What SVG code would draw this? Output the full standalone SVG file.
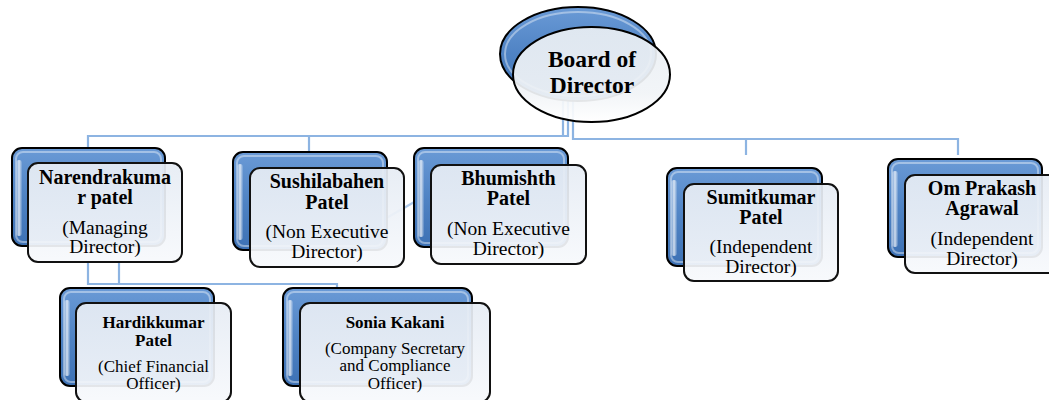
<svg xmlns="http://www.w3.org/2000/svg" width="1049" height="400" viewBox="0 0 1049 400">
<defs>
<linearGradient id="bg" x1="0" y1="0" x2="0" y2="1">
<stop offset="0" stop-color="#6a9ad6"/>
<stop offset="0.5" stop-color="#4f83c4"/>
<stop offset="1" stop-color="#3d71b4"/>
</linearGradient>
<linearGradient id="fg" x1="0" y1="0" x2="0" y2="1">
<stop offset="0" stop-color="#e6ecf4"/>
<stop offset="1" stop-color="#f7f9fc"/>
</linearGradient>
<linearGradient id="eg" x1="0" y1="0" x2="0" y2="1">
<stop offset="0" stop-color="#e9eef3"/>
<stop offset="0.7" stop-color="#f1f4f7"/>
<stop offset="1" stop-color="#ffffff"/>
</linearGradient>
<linearGradient id="hl" x1="0" y1="0" x2="1" y2="0">
<stop offset="0" stop-color="#ffffff" stop-opacity="0.1"/>
<stop offset="0.5" stop-color="#ffffff" stop-opacity="0.75"/>
<stop offset="1" stop-color="#ffffff" stop-opacity="0.1"/>
</linearGradient>
</defs>
<style>
.c{fill:none;stroke:#8db4e2;stroke-width:2.2}
.back{fill:url(#bg);stroke:#000;stroke-width:2}
.gl{fill:none;stroke:#ffffff;stroke-opacity:0.4;stroke-width:2}
.hi{fill:url(#hl)}
.front{fill:url(#fg);fill-opacity:0.93;stroke:#111;stroke-width:2}
.t{font-family:'Liberation Serif','Times New Roman','DejaVu Serif',serif;text-anchor:middle;fill:#000}
.b{font-weight:bold;font-size:20px}
.r{font-size:19.5px}
.bs{font-weight:bold;font-size:17px}
.rs{font-size:17px}
.bt{font-weight:bold;font-size:23.5px}
</style>

<g id="connectors">
<path class="c" d="M563,100 V136 H88 V148"/>
<path class="c" d="M568,100 V136 H563"/>
<path class="c" d="M309,136 V151"/>
<path class="c" d="M573,100 V139 H958 V155"/>
<path class="c" d="M746,139 V155"/>
<path class="c" d="M376,224 L416,201" stroke-opacity="0.7"/>
<path class="c" d="M88,262 V284 H337 V288"/>
<path class="c" d="M119,262 V284"/>
</g>

<g id="board">
<ellipse cx="578" cy="54" rx="78" ry="47" class="back"/>
<ellipse cx="578" cy="54" rx="73" ry="42" class="gl"/>
<ellipse cx="591.5" cy="74.5" rx="78.5" ry="47.5" fill="url(#eg)" fill-opacity="0.93" stroke="#000" stroke-width="2"/>
<text class="t bt" font-family="Liberation Serif, serif" x="592" y="67">Board of</text>
<text class="t bt" font-family="Liberation Serif, serif" x="592" y="93">Director</text>
</g>

<g id="narendra" font-family="Liberation Serif, serif">
<rect class="back" x="12" y="148" width="153" height="98" rx="10"/>
<rect class="gl" x="16" y="152" width="145" height="90" rx="7"/>
<rect class="hi" x="16" y="160" width="6" height="76" rx="3"/>
<rect class="front" x="28" y="163" width="154" height="99" rx="10"/>
<text class="t b" x="105" y="184">Narendrakuma</text>
<text class="t b" x="105" y="204">r patel</text>
<text class="t r" x="105" y="234">(Managing</text>
<text class="t r" x="105" y="253">Director)</text>
</g>

<g id="sushilabahen" font-family="Liberation Serif, serif">
<rect class="back" x="233" y="152" width="154" height="98" rx="10"/>
<rect class="gl" x="237" y="156" width="146" height="90" rx="7"/>
<rect class="hi" x="237" y="164" width="6" height="76" rx="3"/>
<rect class="front" x="250" y="168" width="154" height="99" rx="10"/>
<text class="t b" x="327" y="188">Sushilabahen</text>
<text class="t b" x="327" y="209">Patel</text>
<text class="t r" x="327" y="238">(Non Executive</text>
<text class="t r" x="327" y="258">Director)</text>
</g>

<g id="bhumishth" font-family="Liberation Serif, serif">
<rect class="back" x="414" y="148" width="154" height="99" rx="10"/>
<rect class="gl" x="418" y="152" width="146" height="91" rx="7"/>
<rect class="hi" x="418" y="160" width="6" height="77" rx="3"/>
<rect class="front" x="431" y="165" width="155" height="99" rx="10"/>
<text class="t b" x="508.5" y="185">Bhumishth</text>
<text class="t b" x="508.5" y="205">Patel</text>
<text class="t r" x="508.5" y="235">(Non Executive</text>
<text class="t r" x="508.5" y="255">Director)</text>
</g>

<g id="sumitkumar" font-family="Liberation Serif, serif">
<rect class="back" x="667" y="168" width="155" height="98" rx="10"/>
<rect class="gl" x="671" y="172" width="147" height="90" rx="7"/>
<rect class="hi" x="671" y="180" width="6" height="76" rx="3"/>
<rect class="front" x="684" y="184" width="154" height="97" rx="10"/>
<text class="t b" x="761" y="204">Sumitkumar</text>
<text class="t b" x="761" y="224">Patel</text>
<text class="t r" x="761" y="253">(Independent</text>
<text class="t r" x="761" y="273">Director)</text>
</g>

<g id="omprakash" font-family="Liberation Serif, serif">
<rect class="back" x="888" y="159" width="154" height="98" rx="10"/>
<rect class="gl" x="892" y="163" width="146" height="90" rx="7"/>
<rect class="hi" x="892" y="171" width="6" height="76" rx="3"/>
<rect class="front" x="905" y="175" width="155" height="98" rx="10"/>
<text class="t b" x="982" y="195">Om Prakash</text>
<text class="t b" x="982" y="215">Agrawal</text>
<text class="t r" x="982" y="245">(Independent</text>
<text class="t r" x="982" y="265">Director)</text>
</g>

<g id="hardikkumar" font-family="Liberation Serif, serif">
<rect class="back" x="60" y="288" width="154" height="98" rx="10"/>
<rect class="gl" x="64" y="292" width="146" height="90" rx="7"/>
<rect class="hi" x="64" y="300" width="6" height="76" rx="3"/>
<rect class="front" x="76" y="303" width="155" height="99" rx="10"/>
<text class="t bs" x="153.5" y="328">Hardikkumar</text>
<text class="t bs" x="153.5" y="346">Patel</text>
<text class="t rs" x="153.5" y="372">(Chief Financial</text>
<text class="t rs" x="153.5" y="389">Officer)</text>
</g>

<g id="sonia" font-family="Liberation Serif, serif">
<rect class="back" x="283" y="288" width="189" height="98" rx="10"/>
<rect class="gl" x="287" y="292" width="181" height="90" rx="7"/>
<rect class="hi" x="287" y="300" width="6" height="76" rx="3"/>
<rect class="front" x="300" y="303" width="190" height="99" rx="10"/>
<text class="t bs" x="395" y="328">Sonia Kakani</text>
<text class="t rs" x="395" y="354">(Company Secretary</text>
<text class="t rs" x="395" y="371">and Compliance</text>
<text class="t rs" x="395" y="389">Officer)</text>
</g>
</svg>
